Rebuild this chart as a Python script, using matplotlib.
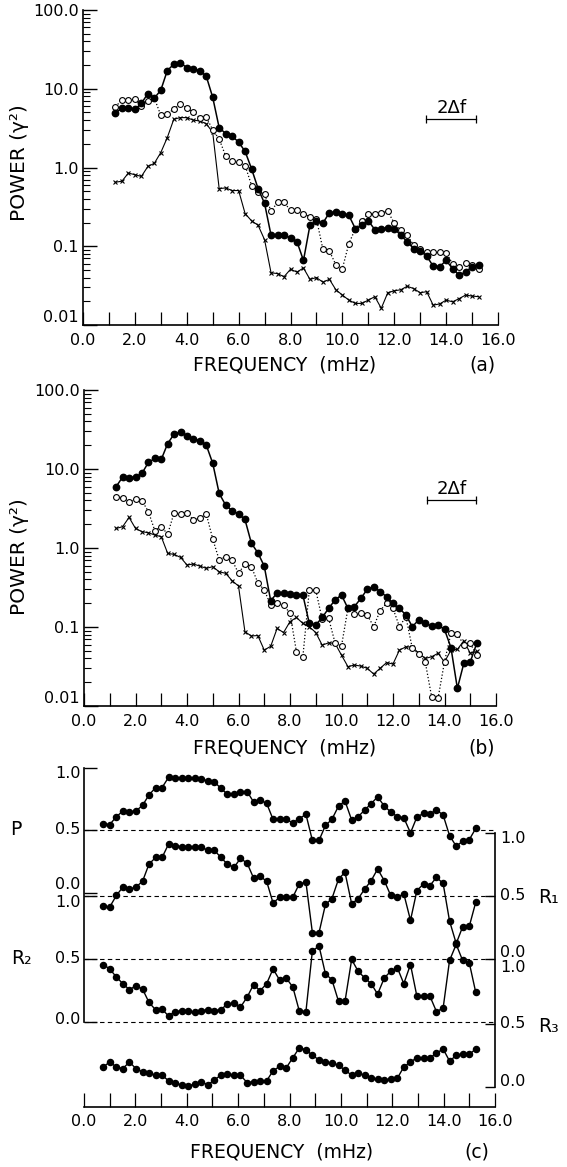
import numpy as np
import matplotlib
matplotlib.use("Agg")
import matplotlib.pyplot as plt
import matplotlib.transforms as mtransforms
from matplotlib.ticker import FixedLocator, FixedFormatter, LogLocator, NullFormatter

plt.rcParams['font.family'] = ['DejaVu Sans']

W, H = 567, 1167

# ---- data: power spectra, panels (a) and (b) ----
freq_ab = [1.25, 1.5, 1.75, 2.0, 2.25, 2.5, 2.75, 3.0, 3.25, 3.5,
           3.75, 4.0, 4.25, 4.5, 4.75, 5.0, 5.25, 5.5, 5.75, 6.0,
           6.25, 6.5, 6.75, 7.0, 7.25, 7.5, 7.75, 8.0, 8.25, 8.5,
           8.75, 9.0, 9.25, 9.5, 9.75, 10.0, 10.25, 10.5, 10.75, 11.0,
           11.25, 11.5, 11.75, 12.0, 12.25, 12.5, 12.75, 13.0, 13.25, 13.5,
           13.75, 14.0, 14.25, 14.5, 14.75, 15.0, 15.25]

a_filled = [4.9, 5.7, 5.7, 5.5, 6.5, 8.7, 7.6, 9.6, 17, 20.5,
            21.5, 18.5, 17.8, 17, 14.5, 7.8, 3.2, 2.7, 2.5, 2.1,
            1.6, 0.96, 0.54, 0.35, 0.138, 0.138, 0.14, 0.127, 0.114, 0.066,
            0.185, 0.21, 0.197, 0.267, 0.27, 0.26, 0.247, 0.167, 0.185, 0.21,
            0.163, 0.167, 0.172, 0.167, 0.138, 0.114, 0.093, 0.087, 0.075, 0.056,
            0.055, 0.066, 0.052, 0.043, 0.047, 0.055, 0.058]
a_open = [5.9, 7.2, 7.1, 7.4, 6.1, 6.9, 7.6, 4.6, 4.8, 5.5,
          6.4, 5.7, 5.0, 4.3, 4.4, 3.0, 2.3, 1.4, 1.2, 1.17,
          1.06, 0.59, 0.49, 0.46, 0.28, 0.36, 0.36, 0.286, 0.29, 0.26,
          0.235, 0.224, 0.091, 0.087, 0.058, 0.052, 0.108, 0.167, 0.21, 0.26,
          0.26, 0.265, 0.277, 0.197, 0.16, 0.138, 0.103, 0.093, 0.085, 0.085,
          0.085, 0.083, 0.060, 0.055, 0.062, 0.058, 0.052]
a_cross = [0.65, 0.67, 0.85, 0.81, 0.77, 1.03, 1.13, 1.55, 2.4, 4.1,
           4.3, 4.3, 4.0, 3.9, 3.6, 2.8, 0.54, 0.55, 0.51, 0.51,
           0.26, 0.21, 0.185, 0.121, 0.046, 0.045, 0.041, 0.051, 0.047, 0.053,
           0.038, 0.040, 0.035, 0.038, 0.028, 0.024, 0.0207, 0.0188, 0.0188, 0.0207,
           0.0229, 0.0163, 0.0257, 0.0272, 0.028, 0.031, 0.029, 0.0257, 0.0265, 0.0179,
           0.0185, 0.0207, 0.0197, 0.0216, 0.024, 0.0233, 0.0229]

b_filled = [6.0, 7.9, 7.8, 7.9, 8.8, 12.1, 13.6, 13.2, 21, 27.7,
            29.7, 26.2, 24, 22.9, 20, 11.8, 4.9, 3.5, 2.97, 2.7,
            2.3, 1.15, 0.87, 0.59, 0.215, 0.27, 0.27, 0.26, 0.254, 0.254,
            0.111, 0.106, 0.132, 0.172, 0.22, 0.254, 0.172, 0.181, 0.23, 0.30,
            0.324, 0.28, 0.242, 0.2, 0.172, 0.142, 0.101, 0.123, 0.111, 0.103,
            0.106, 0.093, 0.055, 0.0167, 0.0347, 0.036, 0.062]
b_open = [4.4, 4.35, 3.86, 4.13, 3.98, 2.89, 1.66, 1.86, 1.5, 2.8,
          2.69, 2.8, 2.26, 2.38, 2.69, 1.3, 0.705, 0.776, 0.705, 0.478,
          0.627, 0.58, 0.364, 0.294, 0.19, 0.2, 0.19, 0.149, 0.0487, 0.042,
          0.294, 0.294, 0.125, 0.129, 0.063, 0.0575, 0.172, 0.146, 0.149, 0.142,
          0.101, 0.161, 0.2, 0.172, 0.101, 0.135, 0.0537, 0.0455, 0.0364, 0.0131,
          0.0125, 0.0364, 0.083, 0.082, 0.059, 0.062, 0.0442]
b_cross = [1.77, 1.86, 2.44, 1.77, 1.61, 1.56, 1.46, 1.39, 0.855, 0.83,
           0.76, 0.61, 0.627, 0.59, 0.553, 0.58, 0.50, 0.478, 0.386, 0.33,
           0.087, 0.077, 0.078, 0.051, 0.057, 0.096, 0.085, 0.117, 0.132, 0.111,
           0.101, 0.085, 0.059, 0.063, 0.062, 0.044, 0.0315, 0.033, 0.032, 0.030,
           0.0254, 0.030, 0.0354, 0.034, 0.051, 0.056, 0.056, 0.0465, 0.040, 0.042,
           0.0465, 0.036, 0.051, 0.052, 0.067, 0.0465, 0.049]

# ---- data: panel (c) ----
freq_c = [0.75, 1.00, 1.26, 1.51, 1.77, 2.02, 2.28, 2.53, 2.79, 3.04,
          3.29, 3.55, 3.80, 4.06, 4.31, 4.57, 4.82, 5.07, 5.33, 5.58,
          5.84, 6.09, 6.35, 6.60, 6.86, 7.11, 7.36, 7.62, 7.87, 8.13,
          8.38, 8.64, 8.89, 9.15, 9.40, 9.65, 9.91, 10.16, 10.42, 10.67,
          10.93, 11.18, 11.43, 11.69, 11.94, 12.20, 12.45, 12.71, 12.96, 13.22,
          13.47, 13.72, 13.98, 14.23, 14.49, 14.74, 15.00, 15.25]

P = [0.55, 0.543, 0.605, 0.65, 0.646, 0.65, 0.696, 0.778, 0.837, 0.837,
     0.917, 0.91, 0.91, 0.912, 0.91, 0.904, 0.89, 0.883, 0.83, 0.784,
     0.784, 0.805, 0.805, 0.723, 0.736, 0.712, 0.584, 0.59, 0.584, 0.557,
     0.59, 0.624, 0.418, 0.418, 0.536, 0.584, 0.69, 0.73, 0.579, 0.605,
     0.659, 0.709, 0.763, 0.69, 0.643, 0.605, 0.597, 0.477, 0.603, 0.632,
     0.629, 0.659, 0.619, 0.456, 0.371, 0.411, 0.424, 0.512]
R1 = [0.417, 0.412, 0.504, 0.57, 0.556, 0.57, 0.617, 0.753, 0.806, 0.806,
      0.911, 0.898, 0.892, 0.892, 0.892, 0.885, 0.864, 0.864, 0.806, 0.753,
      0.727, 0.798, 0.761, 0.643, 0.656, 0.617, 0.444, 0.491, 0.491, 0.491,
      0.596, 0.609, 0.21, 0.21, 0.433, 0.478, 0.635, 0.688, 0.438, 0.478,
      0.556, 0.622, 0.714, 0.622, 0.504, 0.491, 0.517, 0.307, 0.543, 0.596,
      0.583, 0.648, 0.6, 0.302, 0.123, 0.255, 0.26, 0.45]
R2 = [0.456, 0.421, 0.357, 0.304, 0.256, 0.288, 0.261, 0.155, 0.096, 0.101,
      0.048, 0.083, 0.088, 0.088, 0.077, 0.091, 0.096, 0.091, 0.096, 0.144,
      0.149, 0.117, 0.197, 0.296, 0.248, 0.304, 0.421, 0.331, 0.349, 0.277,
      0.088, 0.083, 0.563, 0.603, 0.381, 0.336, 0.163, 0.163, 0.496, 0.403,
      0.349, 0.304, 0.221, 0.349, 0.403, 0.429, 0.304, 0.456, 0.203, 0.203,
      0.203, 0.083, 0.109, 0.488, 0.616, 0.488, 0.469, 0.235]
R3 = [0.159, 0.198, 0.159, 0.146, 0.198, 0.146, 0.12, 0.107, 0.094, 0.094,
      0.049, 0.029, 0.016, 0.008, 0.023, 0.042, 0.016, 0.055, 0.094, 0.102,
      0.094, 0.094, 0.034, 0.042, 0.049, 0.049, 0.128, 0.164, 0.151, 0.232,
      0.31, 0.297, 0.25, 0.216, 0.198, 0.19, 0.172, 0.133, 0.094, 0.107,
      0.094, 0.073, 0.06, 0.055, 0.065, 0.07, 0.159, 0.198, 0.232, 0.232,
      0.232, 0.268, 0.302, 0.206, 0.25, 0.263, 0.258, 0.302]

x_major = [0, 2, 4, 6, 8, 10, 12, 14, 16]
x_labels = ['0.0', '2.0', '4.0', '6.0', '8.0', '10.0', '12.0', '14.0', '16.0']
x_minor = [1, 3, 5, 7, 9, 11, 13, 15]
pow_ticks = [0.01, 0.1, 1, 10, 100]
pow_labels = ['0.01', '0.1', '1.0', '10.0', '100.0']

TICK_FS = 11.5
LAB_FS = 13.5


def px_rect(l, t, r, b):
    return [l / W, 1 - b / H, (r - l) / W, (b - t) / H]


def ftext(x, y, s, **kw):
    fig.text(x / W, 1 - y / H, s, **kw)


fig = plt.figure(figsize=(W / 100, H / 100), dpi=100)


def power_panel(rect, filled, opened, crossed, bar, letter, ylab_y, xlab_y):
    ax = fig.add_axes(rect)
    ax.plot(freq_ab, crossed, '-', color='k', lw=0.8, marker='x', ms=3.2, mew=0.8, zorder=2)
    ax.plot(freq_ab, opened, ':', color='k', lw=0.9, marker='o', ms=4.2, mfc='white',
            mec='k', mew=0.8, zorder=3)
    ax.plot(freq_ab, filled, '-', color='k', lw=1.1, marker='o', ms=4.6, zorder=4)
    ax.set_yscale('log')
    ax.set_ylim(0.01, 100)
    ax.set_xlim(0, 16)
    for s in ['top', 'right']:
        ax.spines[s].set_visible(False)
    for s in ['left', 'bottom']:
        ax.spines[s].set_linewidth(1.2)
    ax.yaxis.set_major_locator(FixedLocator(pow_ticks))
    ax.yaxis.set_major_formatter(FixedFormatter(pow_labels))
    ax.yaxis.set_minor_locator(LogLocator(base=10, subs=np.arange(2, 10)))
    ax.yaxis.set_minor_formatter(NullFormatter())
    ax.set_xticks(x_major)
    ax.set_xticklabels(x_labels)
    ax.set_xticks(x_minor, minor=True)
    ax.tick_params(axis='y', which='major', direction='in', length=10, width=1.0,
                   pad=3, labelsize=TICK_FS)
    ax.tick_params(axis='y', which='minor', direction='in', length=5, width=0.8)
    ax.tick_params(axis='x', which='both', direction='in', length=9.5, width=0.9,
                   pad=6, labelsize=TICK_FS)
    # the lowest y label sits a little higher so it clears the 0.0 x label
    ax.get_yticklabels()[0].set_verticalalignment('bottom')
    # 2 delta-f resolution bar
    x0, x1, yb = bar
    ax.plot([x0, x1], [yb, yb], color='k', lw=0.9, marker='|', ms=6, mew=0.9)
    ax.annotate('2\u0394f', xy=((x0 + x1) / 2, yb), xytext=(0, 1.5),
                textcoords='offset points', ha='center', va='bottom', fontsize=13)
    ftext(20, ylab_y, 'POWER (\u03b3\u00b2)', rotation=90, ha='center', va='center',
          fontsize=14.5)
    ftext(285, xlab_y, 'FREQUENCY  (mHz)', ha='center', va='center', fontsize=LAB_FS)
    ftext(482, xlab_y, letter, ha='center', va='center', fontsize=LAB_FS)
    return ax


power_panel(px_rect(83, 10, 498, 325), a_filled, a_open, a_cross,
            (13.24, 15.17, 4.1), '(a)', 163, 365)
power_panel(px_rect(84, 390, 496, 706), b_filled, b_open, b_cross,
            (13.32, 15.22, 4.06), '(b)', 557, 748)

# ---- panel (c): stacked coherence / phase curves ----
# vertical offsets of each sub-scale inside the shared axes
P_OFF, R1_OFF, R2_OFF, R3_OFF = 1.024, 0.5, 0.0, -0.516
YLO, YHI = -0.675, 2.016

axc = fig.add_axes(px_rect(84, 768, 495, 1107))
axc.set_xlim(0, 16)
axc.set_ylim(YLO, YHI)

for ref in [P_OFF + 0.5, R1_OFF + 0.5, R2_OFF + 0.5, R2_OFF]:
    axc.axhline(ref, color='k', lw=0.8, ls=(0, (4, 3)), zorder=1)

kw = dict(color='k', lw=1.0, marker='o', ms=4.4, zorder=3)
axc.plot(freq_c, np.array(P) + P_OFF, **kw)
axc.plot(freq_c, np.array(R1) + R1_OFF, **kw)
axc.plot(freq_c, np.array(R2) + R2_OFF, **kw)
axc.plot(freq_c, np.array(R3) + R3_OFF, **kw)

axc.spines['top'].set_visible(False)
axc.spines['right'].set_visible(False)
axc.spines['left'].set_bounds(R2_OFF, YHI)
axc.spines['left'].set_linewidth(1.2)
axc.spines['bottom'].set_linewidth(1.2)
axc.set_yticks([R2_OFF, R2_OFF + 0.5, R2_OFF + 1.0, P_OFF, P_OFF + 0.5, YHI])
axc.set_yticklabels([])
axc.tick_params(axis='y', direction='in', length=9, width=1.0)
axc.set_xticks(x_major)
axc.set_xticklabels(x_labels)
axc.set_xticks(x_minor, minor=True)
axc.tick_params(axis='x', which='both', direction='in', length=10, width=0.9,
                pad=5, labelsize=TICK_FS)

twin = axc.twinx()
twin.set_ylim(YLO, YHI)
for s in ['top', 'left', 'bottom']:
    twin.spines[s].set_visible(False)
twin.spines['right'].set_bounds(R3_OFF, R1_OFF + 1.0)
twin.spines['right'].set_linewidth(1.2)
twin.set_yticks([R3_OFF, R3_OFF + 0.5, R1_OFF, R1_OFF + 0.5, R1_OFF + 1.0])
twin.set_yticklabels([])
twin.tick_params(axis='y', direction='in', length=7, width=1.0)

tr = mtransforms.blended_transform_factory(axc.transAxes, axc.transData)
left_labels = [(YHI - 0.04, '1.0'), (P_OFF + 0.5, '0.5'), (P_OFF + 0.07, '0.0'),
               (R2_OFF + 0.95, '1.0'), (R2_OFF + 0.5, '0.5'), (R2_OFF + 0.02, '0.0')]
for yv, s in left_labels:
    axc.text(-0.008, yv, s, transform=tr, ha='right', va='center', fontsize=TICK_FS)
right_labels = [(R1_OFF + 0.96, '1.0'), (R1_OFF + 0.5, '0.5'), (R1_OFF + 0.055, '0.0'),
                (R3_OFF + 0.945, '1.0'), (R3_OFF + 0.5, '0.5'), (R3_OFF + 0.045, '0.0')]
for yv, s in right_labels:
    axc.text(1.012, yv, s, transform=tr, ha='left', va='center', fontsize=TICK_FS)

axc.text(-0.165, P_OFF + 0.5, 'P', transform=tr, ha='center', va='center', fontsize=LAB_FS)
axc.text(-0.152, R2_OFF + 0.5, 'R\u2082', transform=tr, ha='center', va='center',
         fontsize=LAB_FS)
axc.text(1.13, R1_OFF + 0.49, 'R\u2081', transform=tr, ha='center', va='center',
         fontsize=LAB_FS)
axc.text(1.13, R3_OFF + 0.48, 'R\u2083', transform=tr, ha='center', va='center',
         fontsize=LAB_FS)

ftext(282, 1152, 'FREQUENCY  (mHz)', ha='center', va='center', fontsize=LAB_FS)
ftext(477, 1152, '(c)', ha='center', va='center', fontsize=LAB_FS)

fig.savefig('out.png', dpi=100)
